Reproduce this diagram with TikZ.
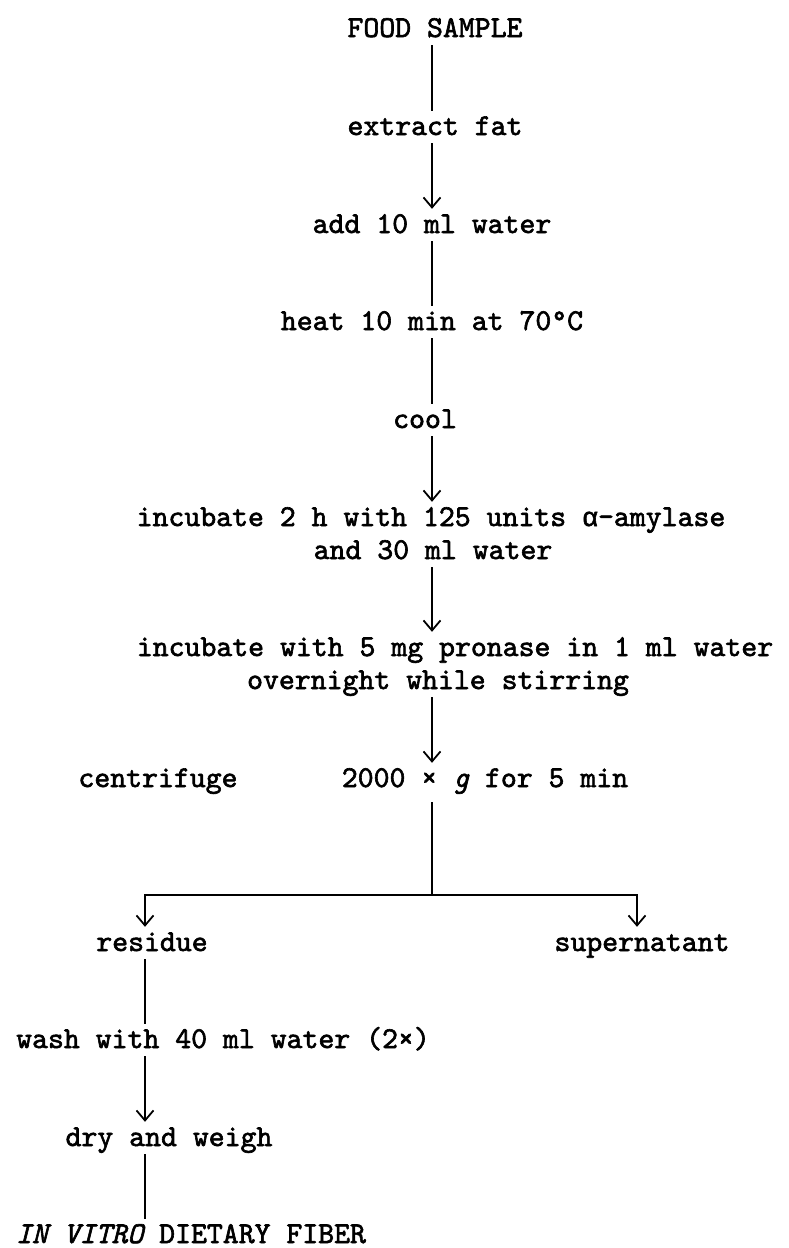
\documentclass[tikz,border=0pt]{standalone}
\usepackage{fontspec}
\setmonofont{lmmono10-regular.otf}[ItalicFont=lmmono10-italic.otf,FakeBold=2]
\newfontfamily\alphafont{Liberation Mono}[Scale=0.88,FakeBold=2]
\usetikzlibrary{arrows.meta}

\begin{document}
\begin{tikzpicture}[x=1pt,y=-1pt,
    every node/.style={font=\ttfamily\fontsize{30.3pt}{32.6pt}\selectfont},
    stage/.style={anchor=base,inner sep=0pt,text height=24pt,text depth=8pt},
    flow/.style={line width=1.8pt},
    feed/.style={flow,-{Straight Barb[length=10pt,width=17pt]}}]
    \useasboundingbox (0,0) rectangle (788,1248);
    \coordinate (spine) at (432,0);
    \coordinate (lcol) at (145,0);
    \coordinate (rcol) at (637,0);
    \coordinate (split) at (432,895);

    \node[stage] (food) at (435,37) {FOOD SAMPLE};
    \node[stage] (fat) at (435,135) {extract fat};
    \node[stage] (water) at (432,233) {add 10 ml water};
    \node[stage] (heat) at (432,330) {heat 10 min at 70°C};
    \node[stage] (cool) at (425,428) {cool};
    \node[stage] (amy1) at (431,526) {incubate 2 h with 125 units {\alphafont α}-amylase};
    \node[stage] (amy2) at (433,559) {and 30 ml water};
    \node[stage] (pro1) at (455,656) {incubate with 5 mg pronase in 1 ml water};
    \node[stage] (pro2) at (438,689) {overnight while stirring};
    \node[stage] (cent) at (158,787) {centrifuge};
    \node[stage] (speed) at (485,787) {2000 × {\itshape g} for 5 min};
    \node[stage] (res) at (152,951) {residue};
    \node[stage] (sup) at (642,951) {supernatant};
    \node[stage] (wash) at (223,1048) {wash with 40 ml water (2×)};
    \node[stage] (dry) at (169,1146) {dry and weigh};
    \node[stage] (fiber) at (191,1243) {{\itshape IN VITRO} DIETARY FIBER};

    % main line
    \draw[flow] (food.south -| spine) -- (fat.north -| spine);
    \draw[feed] (fat.south -| spine) -- (water.north -| spine);
    \draw[flow] (water.south -| spine) -- (heat.north -| spine);
    \draw[flow] (heat.south -| spine) -- (cool.north -| spine);
    \draw[feed] (cool.south -| spine) -- (amy1.north -| spine);
    \draw[feed] (amy2.south -| spine) -- (pro1.north -| spine);
    \draw[feed] (pro2.south -| spine) -- (speed.north -| spine);
    \draw[flow] ([yshift=-7pt]speed.south -| spine) -- (split);
    \draw[feed] (split) -| (res.north -| lcol);
    \draw[feed] (split) -| (sup.north -| rcol);
    % residue branch
    \draw[flow] (res.south -| lcol) -- (wash.north -| lcol);
    \draw[feed] (wash.south -| lcol) -- (dry.north -| lcol);
    \draw[flow] (dry.south -| lcol) -- (fiber.north -| lcol);
\end{tikzpicture}
\end{document}
